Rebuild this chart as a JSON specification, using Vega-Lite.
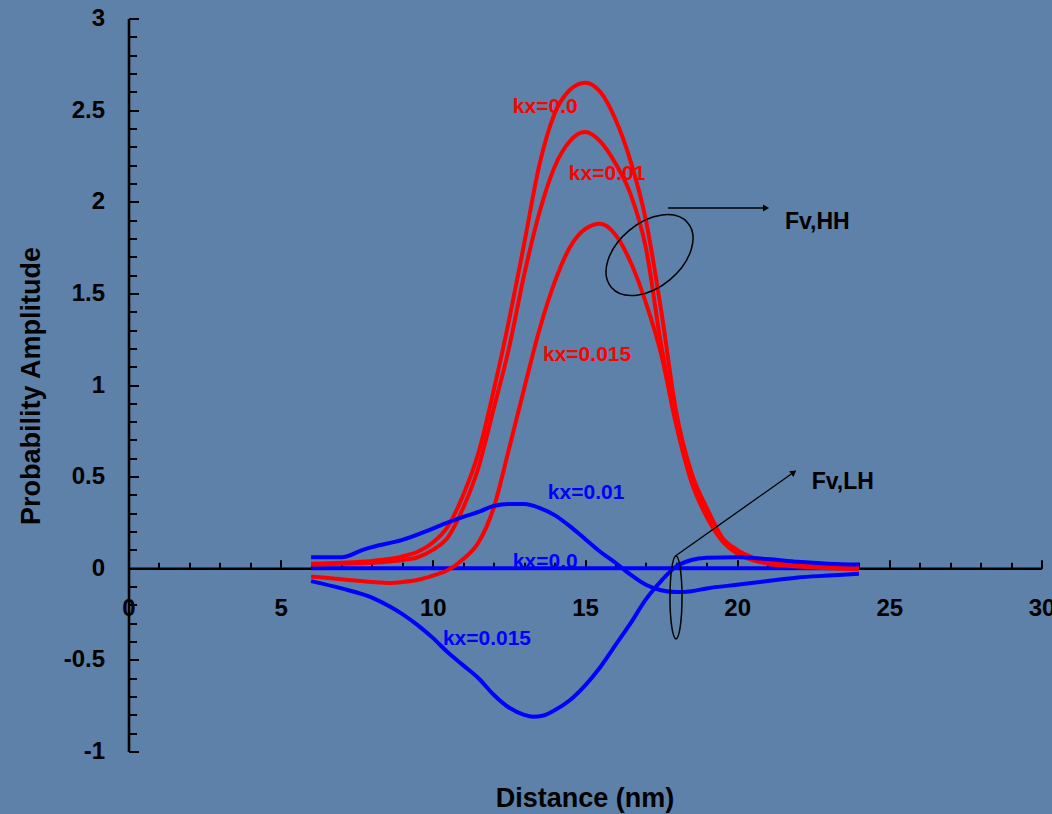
{
  "$schema": "https://vega.github.io/schema/vega-lite/v6.json",
  "width": 913,
  "height": 733,
  "autosize": {"type": "none"},
  "padding": {"left": 128.5, "top": 18.5, "right": 10.5, "bottom": 62.5},
  "background": "#5d81a9",
  "config": {"view": {"stroke": null}, "font": "Liberation Sans"},
  "datasets": {
    "curves": [
      {"curve": "LH kx=0.0", "family": "LH", "x": 6, "y": 0},
      {"curve": "LH kx=0.0", "family": "LH", "x": 12, "y": 0},
      {"curve": "LH kx=0.0", "family": "LH", "x": 18, "y": 0},
      {"curve": "LH kx=0.0", "family": "LH", "x": 24, "y": 0},

      {"curve": "HH kx=0.0", "family": "HH", "x": 6, "y": 0.025},
      {"curve": "HH kx=0.0", "family": "HH", "x": 7, "y": 0.03},
      {"curve": "HH kx=0.0", "family": "HH", "x": 8, "y": 0.04},
      {"curve": "HH kx=0.0", "family": "HH", "x": 9, "y": 0.065},
      {"curve": "HH kx=0.0", "family": "HH", "x": 9.5, "y": 0.09},
      {"curve": "HH kx=0.0", "family": "HH", "x": 10, "y": 0.14},
      {"curve": "HH kx=0.0", "family": "HH", "x": 10.5, "y": 0.23},
      {"curve": "HH kx=0.0", "family": "HH", "x": 11, "y": 0.4},
      {"curve": "HH kx=0.0", "family": "HH", "x": 11.5, "y": 0.63},
      {"curve": "HH kx=0.0", "family": "HH", "x": 12, "y": 0.97},
      {"curve": "HH kx=0.0", "family": "HH", "x": 12.5, "y": 1.35},
      {"curve": "HH kx=0.0", "family": "HH", "x": 13, "y": 1.77},
      {"curve": "HH kx=0.0", "family": "HH", "x": 13.5, "y": 2.2},
      {"curve": "HH kx=0.0", "family": "HH", "x": 14, "y": 2.48},
      {"curve": "HH kx=0.0", "family": "HH", "x": 14.5, "y": 2.61},
      {"curve": "HH kx=0.0", "family": "HH", "x": 15, "y": 2.65},
      {"curve": "HH kx=0.0", "family": "HH", "x": 15.5, "y": 2.6},
      {"curve": "HH kx=0.0", "family": "HH", "x": 16, "y": 2.45},
      {"curve": "HH kx=0.0", "family": "HH", "x": 16.5, "y": 2.22},
      {"curve": "HH kx=0.0", "family": "HH", "x": 17, "y": 1.9},
      {"curve": "HH kx=0.0", "family": "HH", "x": 17.5, "y": 1.41},
      {"curve": "HH kx=0.0", "family": "HH", "x": 18, "y": 0.85},
      {"curve": "HH kx=0.0", "family": "HH", "x": 18.5, "y": 0.52},
      {"curve": "HH kx=0.0", "family": "HH", "x": 19, "y": 0.33},
      {"curve": "HH kx=0.0", "family": "HH", "x": 19.5, "y": 0.17},
      {"curve": "HH kx=0.0", "family": "HH", "x": 20, "y": 0.1},
      {"curve": "HH kx=0.0", "family": "HH", "x": 20.5, "y": 0.06},
      {"curve": "HH kx=0.0", "family": "HH", "x": 21, "y": 0.035},
      {"curve": "HH kx=0.0", "family": "HH", "x": 22, "y": 0.02},
      {"curve": "HH kx=0.0", "family": "HH", "x": 23, "y": 0.012},
      {"curve": "HH kx=0.0", "family": "HH", "x": 24, "y": 0.01},

      {"curve": "HH kx=0.01", "family": "HH", "x": 6, "y": 0.02},
      {"curve": "HH kx=0.01", "family": "HH", "x": 7, "y": 0.025},
      {"curve": "HH kx=0.01", "family": "HH", "x": 8, "y": 0.03},
      {"curve": "HH kx=0.01", "family": "HH", "x": 9, "y": 0.045},
      {"curve": "HH kx=0.01", "family": "HH", "x": 9.5, "y": 0.06},
      {"curve": "HH kx=0.01", "family": "HH", "x": 10, "y": 0.1},
      {"curve": "HH kx=0.01", "family": "HH", "x": 10.5, "y": 0.17},
      {"curve": "HH kx=0.01", "family": "HH", "x": 11, "y": 0.33},
      {"curve": "HH kx=0.01", "family": "HH", "x": 11.5, "y": 0.55},
      {"curve": "HH kx=0.01", "family": "HH", "x": 12, "y": 0.87},
      {"curve": "HH kx=0.01", "family": "HH", "x": 12.5, "y": 1.2},
      {"curve": "HH kx=0.01", "family": "HH", "x": 13, "y": 1.6},
      {"curve": "HH kx=0.01", "family": "HH", "x": 13.5, "y": 1.94},
      {"curve": "HH kx=0.01", "family": "HH", "x": 14, "y": 2.19},
      {"curve": "HH kx=0.01", "family": "HH", "x": 14.5, "y": 2.33},
      {"curve": "HH kx=0.01", "family": "HH", "x": 15, "y": 2.38},
      {"curve": "HH kx=0.01", "family": "HH", "x": 15.5, "y": 2.33},
      {"curve": "HH kx=0.01", "family": "HH", "x": 16, "y": 2.21},
      {"curve": "HH kx=0.01", "family": "HH", "x": 16.5, "y": 2.04},
      {"curve": "HH kx=0.01", "family": "HH", "x": 17, "y": 1.75},
      {"curve": "HH kx=0.01", "family": "HH", "x": 17.5, "y": 1.22},
      {"curve": "HH kx=0.01", "family": "HH", "x": 18, "y": 0.8},
      {"curve": "HH kx=0.01", "family": "HH", "x": 18.5, "y": 0.5},
      {"curve": "HH kx=0.01", "family": "HH", "x": 19, "y": 0.3},
      {"curve": "HH kx=0.01", "family": "HH", "x": 19.5, "y": 0.16},
      {"curve": "HH kx=0.01", "family": "HH", "x": 20, "y": 0.09},
      {"curve": "HH kx=0.01", "family": "HH", "x": 20.5, "y": 0.05},
      {"curve": "HH kx=0.01", "family": "HH", "x": 21, "y": 0.03},
      {"curve": "HH kx=0.01", "family": "HH", "x": 22, "y": 0.015},
      {"curve": "HH kx=0.01", "family": "HH", "x": 23, "y": 0.008},
      {"curve": "HH kx=0.01", "family": "HH", "x": 24, "y": 0.005},

      {"curve": "HH kx=0.015", "family": "HH", "x": 6, "y": -0.045},
      {"curve": "HH kx=0.015", "family": "HH", "x": 7, "y": -0.06},
      {"curve": "HH kx=0.015", "family": "HH", "x": 8, "y": -0.075},
      {"curve": "HH kx=0.015", "family": "HH", "x": 8.6, "y": -0.08},
      {"curve": "HH kx=0.015", "family": "HH", "x": 9, "y": -0.075},
      {"curve": "HH kx=0.015", "family": "HH", "x": 9.6, "y": -0.06},
      {"curve": "HH kx=0.015", "family": "HH", "x": 10, "y": -0.04},
      {"curve": "HH kx=0.015", "family": "HH", "x": 10.5, "y": -0.01},
      {"curve": "HH kx=0.015", "family": "HH", "x": 11, "y": 0.05},
      {"curve": "HH kx=0.015", "family": "HH", "x": 11.5, "y": 0.14},
      {"curve": "HH kx=0.015", "family": "HH", "x": 12, "y": 0.33},
      {"curve": "HH kx=0.015", "family": "HH", "x": 12.5, "y": 0.65},
      {"curve": "HH kx=0.015", "family": "HH", "x": 13, "y": 0.98},
      {"curve": "HH kx=0.015", "family": "HH", "x": 13.5, "y": 1.3},
      {"curve": "HH kx=0.015", "family": "HH", "x": 14, "y": 1.56},
      {"curve": "HH kx=0.015", "family": "HH", "x": 14.5, "y": 1.75},
      {"curve": "HH kx=0.015", "family": "HH", "x": 15, "y": 1.85},
      {"curve": "HH kx=0.015", "family": "HH", "x": 15.5, "y": 1.88},
      {"curve": "HH kx=0.015", "family": "HH", "x": 16, "y": 1.82},
      {"curve": "HH kx=0.015", "family": "HH", "x": 16.5, "y": 1.67},
      {"curve": "HH kx=0.015", "family": "HH", "x": 17, "y": 1.45},
      {"curve": "HH kx=0.015", "family": "HH", "x": 17.5, "y": 1.17},
      {"curve": "HH kx=0.015", "family": "HH", "x": 18, "y": 0.78},
      {"curve": "HH kx=0.015", "family": "HH", "x": 18.5, "y": 0.47},
      {"curve": "HH kx=0.015", "family": "HH", "x": 19, "y": 0.28},
      {"curve": "HH kx=0.015", "family": "HH", "x": 19.5, "y": 0.15},
      {"curve": "HH kx=0.015", "family": "HH", "x": 20, "y": 0.08},
      {"curve": "HH kx=0.015", "family": "HH", "x": 20.5, "y": 0.045},
      {"curve": "HH kx=0.015", "family": "HH", "x": 21, "y": 0.025},
      {"curve": "HH kx=0.015", "family": "HH", "x": 22, "y": 0.01},
      {"curve": "HH kx=0.015", "family": "HH", "x": 23, "y": 0.0},
      {"curve": "HH kx=0.015", "family": "HH", "x": 24, "y": -0.005},

      {"curve": "LH kx=0.01", "family": "LH", "x": 6, "y": 0.06},
      {"curve": "LH kx=0.01", "family": "LH", "x": 7, "y": 0.06},
      {"curve": "LH kx=0.01", "family": "LH", "x": 7.7, "y": 0.1},
      {"curve": "LH kx=0.01", "family": "LH", "x": 8, "y": 0.115},
      {"curve": "LH kx=0.01", "family": "LH", "x": 9, "y": 0.155},
      {"curve": "LH kx=0.01", "family": "LH", "x": 9.9, "y": 0.21},
      {"curve": "LH kx=0.01", "family": "LH", "x": 10.5, "y": 0.25},
      {"curve": "LH kx=0.01", "family": "LH", "x": 11, "y": 0.28},
      {"curve": "LH kx=0.01", "family": "LH", "x": 11.55, "y": 0.31},
      {"curve": "LH kx=0.01", "family": "LH", "x": 12, "y": 0.34},
      {"curve": "LH kx=0.01", "family": "LH", "x": 12.5, "y": 0.35},
      {"curve": "LH kx=0.01", "family": "LH", "x": 13, "y": 0.35},
      {"curve": "LH kx=0.01", "family": "LH", "x": 13.5, "y": 0.33},
      {"curve": "LH kx=0.01", "family": "LH", "x": 14, "y": 0.29},
      {"curve": "LH kx=0.01", "family": "LH", "x": 14.5, "y": 0.23},
      {"curve": "LH kx=0.01", "family": "LH", "x": 15, "y": 0.16},
      {"curve": "LH kx=0.01", "family": "LH", "x": 15.5, "y": 0.09},
      {"curve": "LH kx=0.01", "family": "LH", "x": 16, "y": 0.03},
      {"curve": "LH kx=0.01", "family": "LH", "x": 16.5, "y": -0.035},
      {"curve": "LH kx=0.01", "family": "LH", "x": 17, "y": -0.09},
      {"curve": "LH kx=0.01", "family": "LH", "x": 17.5, "y": -0.12},
      {"curve": "LH kx=0.01", "family": "LH", "x": 18, "y": -0.13},
      {"curve": "LH kx=0.01", "family": "LH", "x": 18.5, "y": -0.125},
      {"curve": "LH kx=0.01", "family": "LH", "x": 19, "y": -0.11},
      {"curve": "LH kx=0.01", "family": "LH", "x": 20, "y": -0.09},
      {"curve": "LH kx=0.01", "family": "LH", "x": 21, "y": -0.07},
      {"curve": "LH kx=0.01", "family": "LH", "x": 22, "y": -0.05},
      {"curve": "LH kx=0.01", "family": "LH", "x": 23, "y": -0.04},
      {"curve": "LH kx=0.01", "family": "LH", "x": 24, "y": -0.03},

      {"curve": "LH kx=0.015", "family": "LH", "x": 6, "y": -0.07},
      {"curve": "LH kx=0.015", "family": "LH", "x": 7, "y": -0.11},
      {"curve": "LH kx=0.015", "family": "LH", "x": 8, "y": -0.16},
      {"curve": "LH kx=0.015", "family": "LH", "x": 8.6, "y": -0.21},
      {"curve": "LH kx=0.015", "family": "LH", "x": 9, "y": -0.25},
      {"curve": "LH kx=0.015", "family": "LH", "x": 9.5, "y": -0.31},
      {"curve": "LH kx=0.015", "family": "LH", "x": 10, "y": -0.38},
      {"curve": "LH kx=0.015", "family": "LH", "x": 10.5, "y": -0.46},
      {"curve": "LH kx=0.015", "family": "LH", "x": 11, "y": -0.53},
      {"curve": "LH kx=0.015", "family": "LH", "x": 11.5, "y": -0.6},
      {"curve": "LH kx=0.015", "family": "LH", "x": 12, "y": -0.69},
      {"curve": "LH kx=0.015", "family": "LH", "x": 12.5, "y": -0.76},
      {"curve": "LH kx=0.015", "family": "LH", "x": 13, "y": -0.8},
      {"curve": "LH kx=0.015", "family": "LH", "x": 13.3, "y": -0.81},
      {"curve": "LH kx=0.015", "family": "LH", "x": 13.6, "y": -0.805},
      {"curve": "LH kx=0.015", "family": "LH", "x": 14, "y": -0.775},
      {"curve": "LH kx=0.015", "family": "LH", "x": 14.5, "y": -0.72},
      {"curve": "LH kx=0.015", "family": "LH", "x": 15, "y": -0.64},
      {"curve": "LH kx=0.015", "family": "LH", "x": 15.5, "y": -0.54},
      {"curve": "LH kx=0.015", "family": "LH", "x": 16, "y": -0.42},
      {"curve": "LH kx=0.015", "family": "LH", "x": 16.5, "y": -0.3},
      {"curve": "LH kx=0.015", "family": "LH", "x": 17, "y": -0.17},
      {"curve": "LH kx=0.015", "family": "LH", "x": 17.5, "y": -0.07},
      {"curve": "LH kx=0.015", "family": "LH", "x": 18, "y": 0.01},
      {"curve": "LH kx=0.015", "family": "LH", "x": 18.5, "y": 0.045},
      {"curve": "LH kx=0.015", "family": "LH", "x": 19, "y": 0.057},
      {"curve": "LH kx=0.015", "family": "LH", "x": 20, "y": 0.06},
      {"curve": "LH kx=0.015", "family": "LH", "x": 21, "y": 0.05},
      {"curve": "LH kx=0.015", "family": "LH", "x": 22, "y": 0.035},
      {"curve": "LH kx=0.015", "family": "LH", "x": 23, "y": 0.025},
      {"curve": "LH kx=0.015", "family": "LH", "x": 24, "y": 0.02}
    ],
    "labels": [
      {"text": "kx=0.0", "family": "HH", "x": 12.63, "y": 2.485},
      {"text": "kx=0.01", "family": "HH", "x": 14.47, "y": 2.118},
      {"text": "kx=0.015", "family": "HH", "x": 13.62, "y": 1.133},
      {"text": "kx=0.01", "family": "LH", "x": 13.78, "y": 0.377},
      {"text": "kx=0.0", "family": "LH", "x": 12.63, "y": 0.0},
      {"text": "kx=0.015", "family": "LH", "x": 10.33, "y": -0.418},
      {"text": "Fv,HH", "family": "note", "x": 21.57, "y": 1.852},
      {"text": "Fv,LH", "family": "note", "x": 22.45, "y": 0.434}
    ]
  },
  "layer": [
    {
      "data": {"name": "labels"},
      "transform": [{"filter": "datum.family != 'note'"}],
      "mark": {"type": "text", "align": "left", "baseline": "alphabetic", "fontSize": 21, "fontWeight": "bold"},
      "encoding": {
        "x": {"field": "x", "type": "quantitative", "scale": {"domain": [0, 30], "nice": false, "zero": false}, "axis": null},
        "y": {"field": "y", "type": "quantitative", "scale": {"domain": [-1, 3], "nice": false, "zero": false}, "axis": null},
        "text": {"field": "text"},
        "color": {"field": "family", "type": "nominal", "scale": {"domain": ["HH", "LH", "note"], "range": ["#ff0000", "#0000ff", "#000000"]}, "legend": null}
      }
    },
    {
      "data": {"name": "labels"},
      "transform": [{"filter": "datum.family == 'note'"}],
      "mark": {"type": "text", "align": "left", "baseline": "alphabetic", "fontSize": 23, "fontWeight": "bold"},
      "encoding": {
        "x": {"field": "x", "type": "quantitative", "axis": null},
        "y": {"field": "y", "type": "quantitative", "axis": null},
        "text": {"field": "text"},
        "color": {"field": "family", "type": "nominal", "legend": null}
      }
    },
    {
      "data": {"name": "curves"},
      "transform": [{"filter": "datum.curve == 'LH kx=0.0'"}],
      "mark": {"type": "line", "strokeWidth": 4},
      "encoding": {
        "x": {"field": "x", "type": "quantitative", "axis": {
          "orient": "bottom", "offset": -183.25, "values": [0,1,2,3,4,5,6,7,8,9,10,11,12,13,14,15,16,17,18,19,20,21,22,23,24,25,26,27,28,29,30],
          "tickSize": -6, "tickWidth": 2, "tickColor": "#000000", "labels": false, "domain": false, "grid": false, "title": null}},
        "y": {"field": "y", "type": "quantitative", "axis": {
          "orient": "left", "values": [-1,-0.9,-0.8,-0.7,-0.6,-0.5,-0.4,-0.3,-0.2,-0.1,0,0.1,0.2,0.3,0.4,0.5,0.6,0.7,0.8,0.9,1,1.1,1.2,1.3,1.4,1.5,1.6,1.7,1.8,1.9,2,2.1,2.2,2.3,2.4,2.5,2.6,2.7,2.8,2.9,3],
          "tickSize": -8, "tickWidth": 2, "tickColor": "#000000", "labels": false, "domain": false, "grid": false, "title": null}},
        "detail": {"field": "curve"},
        "color": {"field": "family", "type": "nominal", "legend": null}
      }
    },
    {
      "data": {"name": "curves"},
      "transform": [{"filter": "datum.curve != 'LH kx=0.0'"}],
      "mark": {"type": "line", "strokeWidth": 4, "interpolate": "monotone"},
      "encoding": {
        "x": {"field": "x", "type": "quantitative", "axis": {
          "orient": "bottom", "offset": -183.25, "values": [0, 5, 10, 15, 20, 25, 30],
          "tickSize": -8.5, "tickWidth": 2, "tickColor": "#000000",
          "domainColor": "#000000", "domainWidth": 2.6,
          "labelFontSize": 24, "labelFontWeight": "bold", "labelColor": "#000000", "labelPadding": 37, "labelFlush": false, "labelOverlap": false,
          "grid": false,
          "title": "Distance (nm)", "titleFontSize": 27, "titleFontWeight": "bold", "titleColor": "#000000",
          "titleX": 456, "titleY": 238, "titleBaseline": "alphabetic", "titleAlign": "center", "titleAnchor": null}},
        "y": {"field": "y", "type": "quantitative", "axis": {
          "orient": "left", "values": [-1, -0.5, 0, 0.5, 1, 1.5, 2, 2.5, 3],
          "tickSize": -10, "tickWidth": 2, "tickColor": "#000000",
          "domainColor": "#000000", "domainWidth": 2.6,
          "labelFontSize": 24, "labelFontWeight": "bold", "labelColor": "#000000", "labelPadding": 34, "labelFlush": false, "labelOverlap": false,
          "labelExpr": "'' + datum.value",
          "grid": false,
          "title": "Probability Amplitude", "titleFontSize": 27, "titleFontWeight": "bold", "titleColor": "#000000",
          "titleX": -97, "titleY": 367, "titleAngle": -90, "titleBaseline": "middle", "titleAlign": "center"}},
        "detail": {"field": "curve"},
        "color": {"field": "family", "type": "nominal", "legend": null}
      }
    },
    {
      "data": {"values": [{"x": 17.73, "y": 1.966, "x2": 20.95, "y2": 1.966}, {"x": 17.97, "y": 0.067, "x2": 21.86, "y2": 0.524}]},
      "mark": {"type": "rule", "color": "#000000", "strokeWidth": 1.3},
      "encoding": {
        "x": {"field": "x", "type": "quantitative", "axis": null},
        "y": {"field": "y", "type": "quantitative", "axis": null},
        "x2": {"field": "x2"},
        "y2": {"field": "y2"}
      }
    },
    {
      "data": {"values": [{"x": 20.95, "y": 1.966}]},
      "mark": {"type": "point", "shape": "triangle-right", "filled": true, "color": "#000000", "size": 50, "opacity": 1},
      "encoding": {
        "x": {"field": "x", "type": "quantitative", "axis": null},
        "y": {"field": "y", "type": "quantitative", "axis": null}
      }
    },
    {
      "data": {"values": [{"x": 21.86, "y": 0.524}]},
      "mark": {"type": "point", "shape": "triangle-right", "filled": true, "color": "#000000", "size": 50, "angle": -36, "opacity": 1},
      "encoding": {
        "x": {"field": "x", "type": "quantitative", "axis": null},
        "y": {"field": "y", "type": "quantitative", "axis": null}
      }
    },
    {
      "data": {"values": [{"x": 17.12, "y": 1.709}]},
      "mark": {"type": "point", "shape": "M 1 0 C 1 0.3535 0.5523 0.64 0 0.64 C -0.5523 0.64 -1 0.3535 -1 0 C -1 -0.3535 -0.5523 -0.64 0 -0.64 C 0.5523 -0.64 1 -0.3535 1 0 Z", "filled": false, "stroke": "#000000", "strokeWidth": 1.5, "size": 10000, "angle": -40, "opacity": 1},
      "encoding": {
        "x": {"field": "x", "type": "quantitative", "axis": null},
        "y": {"field": "y", "type": "quantitative", "axis": null}
      }
    },
    {
      "data": {"values": [{"x": 17.99, "y": -0.159}]},
      "mark": {"type": "point", "shape": "M 0.145 0 C 0.145 0.5523 0.0801 1 0 1 C -0.0801 1 -0.145 0.5523 -0.145 0 C -0.145 -0.5523 -0.0801 -1 0 -1 C 0.0801 -1 0.145 -0.5523 0.145 0 Z", "filled": false, "stroke": "#000000", "strokeWidth": 1.5, "size": 6889, "opacity": 1},
      "encoding": {
        "x": {"field": "x", "type": "quantitative", "axis": null},
        "y": {"field": "y", "type": "quantitative", "axis": null}
      }
    }
  ],
  "resolve": {"axis": {"x": "independent", "y": "independent"}}
}
